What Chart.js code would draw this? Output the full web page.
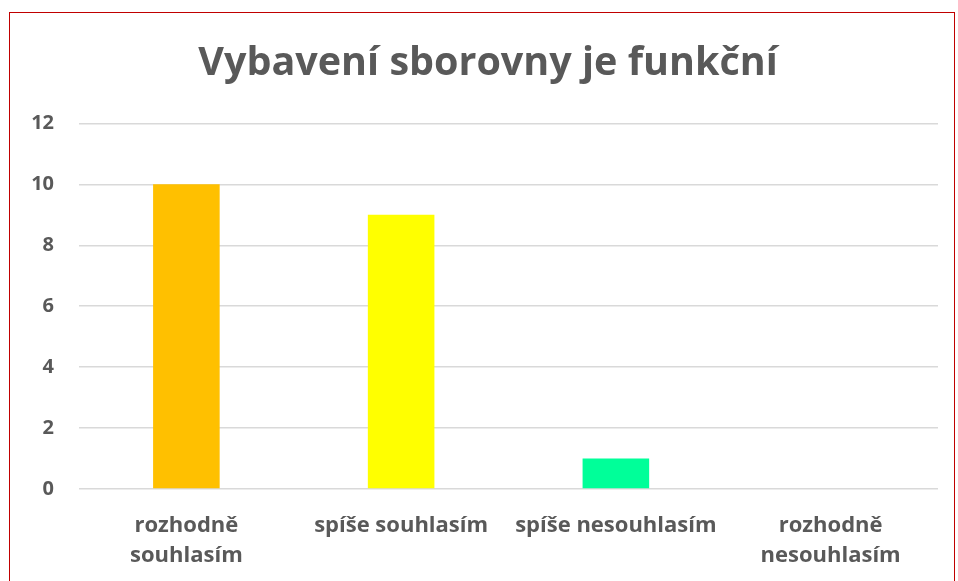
<!DOCTYPE html>
<html>
<head>
<meta charset="utf-8">
<script src="https://cdn.jsdelivr.net/npm/chart.js@4/dist/chart.umd.min.js"></script>
<style>
html,body{margin:0;padding:0;background:#fff;width:958px;height:581px;overflow:hidden;}
#frame{position:absolute;left:9px;top:12px;width:946px;height:580px;border:1.5px solid #c00000;border-bottom:none;box-sizing:border-box;}
#c{position:absolute;left:0;top:0;}
</style>
</head>
<body>
<div id="frame"><canvas id="c" width="944" height="568"></canvas></div>
<script>
const titleText = "Vybavení sborovny je funkční";
const categories = [["rozhodně","souhlasím"], "spíše souhlasím", "spíše nesouhlasím", ["rozhodně","nesouhlasím"]];
const values = [10, 9, 1, 0];
const barColors = ["#FFC000", "#FFFF00", "#00FF99", "#5B9BD5"];
const yTicks = [0, 2, 4, 6, 8, 10, 12];

const gray = "#595959";
const font = "'Open Sans', 'Liberation Sans', sans-serif";

const titleShift = {
  id: 'titleShift',
  afterLayout(chart) {
    if (chart.titleBlock) { chart.titleBlock.left += 28; }
  }
};

new Chart(document.getElementById('c'), {
  type: 'bar',
  data: {
    labels: categories,
    datasets: [{
      data: values,
      backgroundColor: barColors,
      borderWidth: 0,
      categoryPercentage: 1,
      barPercentage: 0.31
    }]
  },
  plugins: [titleShift],
  options: {
    responsive: false,
    animation: false,
    devicePixelRatio: 1,
    layout: { padding: { left: 0, right: 16, top: 0, bottom: 0 } },
    plugins: {
      legend: { display: false },
      tooltip: { enabled: false },
      title: {
        display: true,
        text: titleText,
        color: gray,
        font: { family: font, size: 39.5, weight: 'bold' },
        padding: { top: 27, bottom: 36 }
      }
    },
    scales: {
      x: {
        grid: { display: false },
        border: { display: false },
        ticks: {
          color: gray,
          font: { family: font, size: 22, weight: 'bold', lineHeight: 1.36 },
          maxRotation: 0,
          autoSkip: false,
          padding: 14
        },
        afterFit(axis) { axis.height = 92; }
      },
      y: {
        min: 0,
        max: 12,
        afterBuildTicks(axis) { axis.ticks = yTicks.map(v => ({ value: v })); },
        grid: { color: "#d9d9d9", lineWidth: 1.5, drawTicks: false },
        border: { display: false },
        ticks: {
          color: gray,
          font: { family: font, size: 20, weight: 'bold' },
          padding: 25
        },
        afterFit(axis) { axis.width = 69; }
      }
    }
  }
});
</script>
</body>
</html>
